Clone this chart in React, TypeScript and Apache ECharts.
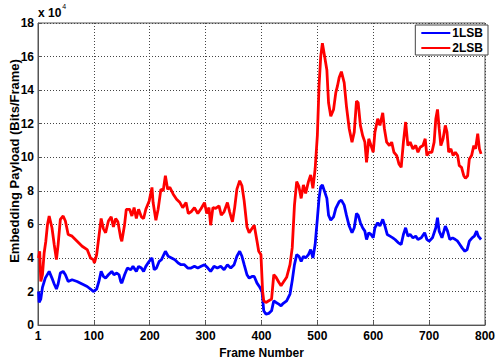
import React, { useEffect, useRef } from "react";
import * as echarts from "echarts";

const seriesNames = ["1LSB", "2LSB"];
const xTickLabels = ["1", "100", "200", "300", "400", "500", "600", "700", "800"];
const yTickLabels = ["0", "2", "4", "6", "8", "10", "12", "14", "16", "18"];

// 2LSB (red), values in units of 10^4 bits/frame
const redFrames = [1, 3, 5, 8, 11, 14, 17, 20, 25, 29, 33, 36, 40, 45, 49, 54, 61, 70, 79, 88, 94, 99, 101, 105, 108, 113, 117, 121, 126, 131, 135, 139, 143, 148, 150, 155, 158, 164, 168, 172, 176, 180, 185, 189, 193, 199, 204, 206, 211, 215, 220, 224, 228, 232, 236, 242, 248, 254, 259, 265, 269, 274, 280, 286, 292, 298, 302, 306, 309, 313, 318, 324, 328, 333, 339, 343, 348, 352, 356, 361, 365, 369, 374, 378, 383, 387, 392, 395, 399, 402, 404, 408, 413, 418, 422, 426, 431, 435, 439, 445, 451, 455, 459, 463, 467, 471, 475, 479, 484, 488, 492, 496, 500, 503, 506, 509, 513, 517, 520, 524, 529, 533, 536, 539, 543, 548, 552, 557, 562, 566, 570, 573, 577, 581, 585, 588, 592, 596, 600, 603, 608, 612, 617, 620, 624, 629, 633, 637, 642, 646, 650, 654, 658, 662, 666, 671, 676, 680, 684, 689, 693, 696, 700, 705, 709, 712, 715, 718, 721, 725, 729, 732, 735, 739, 743, 747, 751, 754, 758, 762, 765, 769, 772, 776, 780, 783, 787, 790, 793];
const redValues = [4.0, 4.4, 2.6, 3.0, 4.3, 5.0, 6.0, 6.5, 5.8, 4.8, 3.9, 4.8, 6.3, 6.5, 6.2, 5.4, 5.3, 5.0, 4.7, 4.5, 4.0, 3.9, 3.7, 4.2, 5.0, 6.35, 5.75, 5.5, 6.2, 6.45, 5.85, 6.35, 6.15, 5.2, 5.0, 6.0, 6.9, 6.9, 6.5, 7.0, 6.35, 6.9, 6.45, 6.35, 6.9, 7.4, 8.2, 7.3, 6.25, 6.9, 8.1, 8.0, 8.9, 8.1, 8.2, 7.8, 7.5, 7.3, 7.0, 7.3, 6.65, 6.75, 7.0, 6.65, 6.95, 7.3, 6.65, 7.0, 5.95, 7.0, 6.95, 7.1, 6.55, 6.75, 7.3, 6.75, 6.15, 7.0, 8.1, 8.6, 8.3, 7.4, 5.85, 5.5, 5.75, 5.95, 5.0, 4.4, 4.2, 2.0, 1.45, 1.35, 1.45, 1.55, 3.0, 2.85, 2.55, 2.35, 2.55, 2.85, 3.6, 4.6, 7.15, 8.55, 8.25, 7.55, 8.35, 7.85, 8.55, 8.95, 8.15, 9.3, 11.3, 14.25, 16.0, 16.8, 16.0, 15.2, 13.25, 12.45, 12.85, 13.85, 14.25, 14.75, 15.1, 14.45, 13.05, 11.7, 10.9, 11.5, 13.35, 13.25, 11.9, 11.3, 10.9, 9.7, 11.1, 10.7, 10.3, 11.5, 12.3, 11.9, 12.65, 11.7, 10.9, 10.7, 10.9, 10.3, 10.1, 9.6, 9.4, 10.9, 12.1, 10.7, 10.9, 10.5, 10.7, 10.3, 10.6, 10.7, 11.1, 10.1, 10.3, 10.3, 10.9, 12.3, 12.85, 11.7, 10.7, 11.1, 11.9, 11.5, 10.3, 10.5, 10.1, 10.3, 10.1, 9.5, 9.4, 8.9, 8.75, 8.9, 9.9, 10.1, 10.7, 10.5, 11.4, 10.5, 10.2];

// 1LSB (blue), values in units of 10^4 bits/frame
const blueFrames = [1, 2, 5, 8, 13, 20, 25, 29, 33, 36, 40, 45, 49, 54, 61, 70, 79, 88, 94, 99, 105, 109, 113, 117, 121, 126, 132, 136, 141, 145, 148, 150, 155, 160, 166, 170, 176, 180, 185, 189, 193, 199, 204, 208, 212, 217, 221, 228, 233, 239, 245, 251, 256, 262, 268, 274, 280, 286, 292, 298, 304, 309, 315, 321, 327, 333, 339, 345, 351, 356, 361, 365, 369, 374, 378, 383, 387, 392, 397, 401, 404, 408, 413, 418, 422, 426, 431, 435, 439, 445, 451, 455, 459, 463, 467, 471, 475, 479, 484, 488, 492, 496, 500, 503, 506, 509, 513, 517, 520, 524, 529, 533, 539, 543, 548, 552, 557, 562, 566, 570, 573, 577, 581, 585, 588, 592, 596, 600, 603, 608, 612, 617, 621, 625, 630, 635, 639, 645, 650, 654, 658, 662, 666, 671, 676, 680, 686, 692, 696, 700, 706, 712, 715, 718, 723, 729, 733, 737, 742, 747, 751, 755, 759, 764, 768, 772, 777, 781, 785, 788, 793];
const blueValues = [2.0, 1.35, 1.55, 2.25, 2.8, 3.2, 2.8, 2.45, 2.15, 2.45, 3.1, 3.2, 3.0, 2.6, 2.7, 2.6, 2.45, 2.3, 2.15, 2.0, 2.15, 2.6, 3.2, 2.9, 2.8, 3.0, 3.2, 3.0, 3.1, 3.0, 2.6, 2.5, 3.0, 3.4, 3.3, 3.5, 3.2, 3.5, 3.4, 3.2, 3.5, 3.8, 4.0, 3.3, 3.4, 3.8, 3.9, 4.4, 4.1, 4.0, 3.9, 3.7, 3.6, 3.6, 3.4, 3.4, 3.5, 3.4, 3.5, 3.6, 3.4, 3.2, 3.5, 3.4, 3.5, 3.3, 3.6, 3.4, 3.6, 4.1, 4.4, 4.1, 3.6, 3.0, 2.8, 2.9, 2.9, 2.5, 2.25, 2.0, 0.85, 0.65, 0.7, 0.85, 1.45, 1.35, 1.25, 1.15, 1.3, 1.45, 1.85, 2.65, 3.6, 4.2, 4.1, 3.8, 4.1, 4.0, 4.2, 4.5, 4.0, 4.8, 6.35, 7.55, 8.25, 8.35, 7.95, 7.55, 6.55, 6.25, 6.45, 6.95, 7.35, 7.45, 7.15, 6.55, 5.9, 5.5, 5.8, 6.65, 6.55, 6.1, 5.8, 5.6, 5.1, 5.5, 5.4, 5.2, 5.8, 6.1, 5.9, 6.3, 5.9, 5.4, 5.3, 5.2, 5.1, 4.9, 4.8, 5.4, 5.8, 5.3, 5.4, 5.2, 5.3, 5.1, 5.2, 5.5, 5.1, 5.0, 5.2, 5.8, 6.4, 5.6, 5.2, 5.9, 5.6, 5.1, 5.2, 5.1, 5.0, 4.8, 4.6, 4.4, 4.5, 5.0, 5.2, 5.3, 5.6, 5.3, 5.1];

const zip = (xs: number[], ys: number[]) => xs.map((x, i) => [x, ys[i]]);

const FONT = "Liberation Sans, Arial, sans-serif";

export default function App() {
  const ref = useRef<HTMLDivElement>(null);
  useEffect(() => {
    if (!ref.current) return;
    const chart = echarts.init(ref.current, undefined, { renderer: "svg" });
    chart.setOption({
      animation: false,
      backgroundColor: "#ffffff",
      grid: {
        left: 38,
        top: 23,
        right: 7,
        bottom: 36,
        show: true,
        borderColor: "#555",
        borderWidth: 1,
      },
      legend: {
        right: 10,
        top: 25,
        orient: "vertical",
        icon: "rect",
        itemWidth: 29,
        itemHeight: 2,
        itemGap: 3,
        padding: [2, 5, 1, 6],
        borderColor: "#444",
        borderWidth: 1,
        backgroundColor: "#fff",
        textStyle: { fontFamily: FONT, fontWeight: "bold", fontSize: 12, color: "#000", padding: [0, 0, 0, -3] },
        data: seriesNames,
      },
      xAxis: {
        type: "value",
        min: 0,
        max: 800,
        interval: 100,
        name: "Frame Number",
        nameLocation: "middle",
        nameGap: 20,
        nameTextStyle: { fontFamily: FONT, fontWeight: "bold", fontSize: 12, color: "#000" },
        axisLine: { show: true, lineStyle: { color: "#555" } },
        axisTick: { show: true, inside: true, length: 4, lineStyle: { color: "#555" } },
        axisLabel: {
          fontFamily: FONT,
          fontWeight: "bold",
          fontSize: 12,
          color: "#000",
          margin: 5,
          formatter: (v: number) => xTickLabels[Math.round(v / 100)] ?? "",
        },
        splitLine: { show: true, lineStyle: { type: [1, 2], color: "#444", width: 1 } },
      },
      yAxis: {
        type: "value",
        min: 0,
        max: 18,
        interval: 2,
        axisLine: { show: true, lineStyle: { color: "#555" } },
        axisTick: { show: true, inside: true, length: 4, lineStyle: { color: "#555" } },
        axisLabel: {
          fontFamily: FONT,
          fontWeight: "bold",
          fontSize: 12,
          color: "#000",
          margin: 4,
          formatter: (v: number) => yTickLabels[Math.round(v / 2)] ?? "",
        },
        splitLine: { show: true, lineStyle: { type: [1, 2], color: "#444", width: 1 } },
      },
      graphic: [
        {
          type: "text",
          x: 14,
          y: 161,
          rotation: Math.PI / 2,
          style: {
            text: "Embedding Payload (Bits/Frame)",
            fontFamily: FONT,
            fontWeight: "bold",
            fontSize: 13,
            fill: "#000",
            align: "center",
            verticalAlign: "middle",
          },
        },
        {
          type: "text",
          left: 38,
          top: 3,
          style: {
            text: "{a|x 10}{b|4}",
            rich: {
              a: { fontFamily: FONT, fontWeight: "bold", fontSize: 12, fill: "#000", verticalAlign: "bottom", lineHeight: 16 },
              b: { fontFamily: FONT, fontSize: 7, fill: "#000", verticalAlign: "top", lineHeight: 10, padding: [0, 0, 6, 1] },
            },
          },
        },
      ],
      series: [
        {
          name: seriesNames[0],
          type: "line",
          data: zip(blueFrames, blueValues),
          showSymbol: false,
          lineStyle: { color: "#0000ff", width: 2.8 },
          itemStyle: { color: "#0000ff" },
        },
        {
          name: seriesNames[1],
          type: "line",
          data: zip(redFrames, redValues),
          showSymbol: false,
          lineStyle: { color: "#ff0000", width: 2.8 },
          itemStyle: { color: "#ff0000" },
        },
      ],
    });
    return () => chart.dispose();
  }, []);
  return <div ref={ref} style={{ width: 498, height: 364, position: "absolute", left: 0, top: 0 }} />;
}
